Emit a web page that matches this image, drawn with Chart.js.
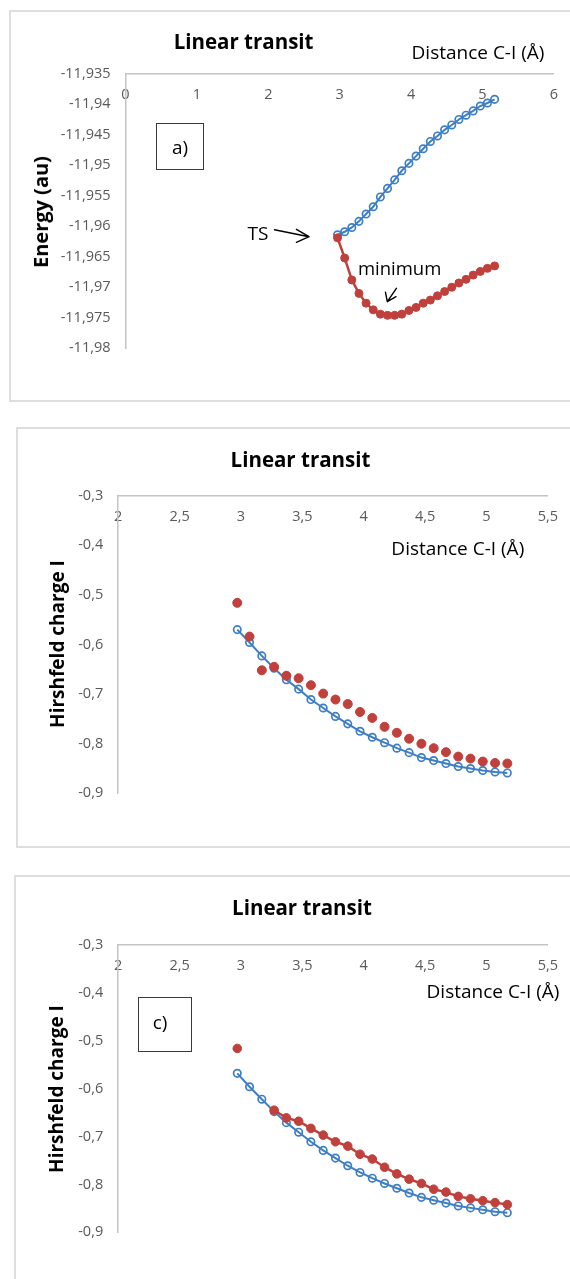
<!DOCTYPE html>
<html><head><meta charset="utf-8">
<script src="https://cdn.jsdelivr.net/npm/chart.js@4.4.1/dist/chart.umd.min.js"></script>
<style>
html,body{margin:0;padding:0;background:#fff;width:570px;height:1279px;overflow:hidden;position:relative;font-family:'Open Sans',sans-serif;}
.panel{position:absolute;border:2px solid #dedede;box-sizing:border-box;}
canvas{position:absolute;left:0;}
.t{position:absolute;white-space:nowrap;line-height:1;color:#000;font-family:'Open Sans',sans-serif;}
.ttl{font-weight:bold;font-size:20.5px;transform:translateX(-50%);}
.dist{font-size:19px;transform:translateX(-50%);}
.yt{font-weight:bold;transform:translate(-50%,-50%) rotate(-90deg);}
.box{position:absolute;border:1.3px solid #3a3a3a;box-sizing:border-box;}
</style></head>
<body>
<div class="panel" style="left:9px;top:10px;width:570px;height:392px;"></div>
<div class="panel" style="left:15.5px;top:426.5px;width:570px;height:421px;"></div>
<div class="panel" style="left:13.5px;top:875px;width:570px;height:420px;"></div>

<canvas id="c1" width="570" height="410" style="top:0"></canvas>
<canvas id="c2" width="570" height="430" style="top:420px"></canvas>
<canvas id="c3" width="570" height="419" style="top:860px"></canvas>

<!-- panel 1 texts -->
<div class="t ttl" style="left:243.6px;top:31px;">Linear transit</div>
<div class="t dist" style="left:478px;top:43px;">Distance C-I (Å)</div>
<div class="t yt" style="left:41px;top:212px;font-size:20px;">Energy (au)</div>
<div class="box" style="left:156px;top:123px;width:48px;height:47px;"></div>
<div class="t" style="left:180px;top:138px;font-size:19px;transform:translateX(-50%);">a)</div>
<div class="t" style="left:258px;top:224px;font-size:19px;transform:translateX(-50%);">TS</div>
<div class="t" style="left:399.6px;top:258.6px;font-size:18.5px;transform:translateX(-50%);">minimum</div>

<!-- panel 2 texts -->
<div class="t ttl" style="left:300.5px;top:448.5px;">Linear transit</div>
<div class="t dist" style="left:457.8px;top:539px;">Distance C-I (Å)</div>
<div class="t yt" style="left:57px;top:644px;font-size:19px;">Hirshfeld charge I</div>

<!-- panel 3 texts -->
<div class="t ttl" style="left:302px;top:896.8px;">Linear transit</div>
<div class="t dist" style="left:493px;top:982px;">Distance C-I (Å)</div>
<div class="t yt" style="left:56px;top:1089px;font-size:19px;">Hirshfeld charge I</div>
<div class="box" style="left:138px;top:997px;width:53.6px;height:55.3px;"></div>
<div class="t" style="left:160px;top:1013px;font-size:19px;transform:translateX(-50%);">c)</div>

<svg width="570" height="1279" style="position:absolute;left:0;top:0;pointer-events:none">
  <g stroke="#000" stroke-width="1.4" fill="none" stroke-linecap="round" stroke-linejoin="round">
    <path d="M274.5 229.7 L309 236.7 M296.4 229.3 L309 236.7 L296.4 242.3"/>
    <path d="M396.4 288.3 L387.3 301.7 M385.5 292.3 L387.3 301.7 L396 296.7"/>
  </g>
</svg>

<script>
// ---- data ----
const distances = [2.97, 3.07, 3.17, 3.27, 3.37, 3.47, 3.57, 3.67, 3.77, 3.87, 3.97, 4.07, 4.17, 4.27, 4.37, 4.47, 4.57, 4.67, 4.77, 4.87, 4.97, 5.07, 5.17];

const energyBlue = [-11.9614, -11.9609, -11.9602, -11.9592, -11.9580, -11.9568, -11.9552, -11.9538, -11.9524, -11.9509, -11.9497, -11.9485, -11.9473, -11.9461, -11.9452, -11.9442, -11.9434, -11.9425, -11.9418, -11.9411, -11.9403, -11.9398, -11.9392];
const energyRed = [-11.9619, -11.9652, -11.9688, -11.9710, -11.9726, -11.9737, -11.9744, -11.9746, -11.9746, -11.9744, -11.9738, -11.9733, -11.9726, -11.9721, -11.9714, -11.9707, -11.9700, -11.9693, -11.9687, -11.9680, -11.9674, -11.9669, -11.9665];

const chargeBRed = [-0.516, -0.584, -0.652, -0.645, -0.663, -0.668, -0.682, -0.699, -0.711, -0.720, -0.736, -0.748, -0.766, -0.778, -0.790, -0.800, -0.809, -0.817, -0.826, -0.830, -0.836, -0.839, -0.840];
const chargeBBlue = [-0.570, -0.596, -0.623, -0.648, -0.671, -0.690, -0.711, -0.728, -0.745, -0.760, -0.775, -0.787, -0.798, -0.809, -0.818, -0.828, -0.834, -0.840, -0.846, -0.850, -0.854, -0.857, -0.859];

const chargeCRed = [-0.516, null, null, -0.645, -0.661, -0.668, -0.683, -0.697, -0.711, -0.720, -0.737, -0.747, -0.764, -0.778, -0.789, -0.798, -0.810, -0.816, -0.825, -0.830, -0.834, -0.838, -0.842];
const chargeCBlue = [-0.568, -0.596, -0.622, -0.648, -0.671, -0.691, -0.711, -0.729, -0.745, -0.761, -0.775, -0.787, -0.798, -0.808, -0.818, -0.827, -0.833, -0.839, -0.845, -0.849, -0.853, -0.857, -0.859];

const xTicksA = [0, 1, 2, 3, 4, 5, 6];
const yTicksA = [-11.98, -11.975, -11.97, -11.965, -11.96, -11.955, -11.95, -11.945, -11.94, -11.935];
const xTicksBC = [2, 2.5, 3, 3.5, 4, 4.5, 5, 5.5];
const yTicksBC = [-0.9, -0.8, -0.7, -0.6, -0.5, -0.4, -0.3];

// ---- styling ----
const RED = '#c0403c';
const BLUE = '#3d7ec6';
const Y_AXIS_W = 95;
const fmt = v => String(v).replace('.', ',');
const pts = (xs, ys) => xs.map((x, i) => ({x: x, y: ys[i]}));

function redSet(ys, line, r) {
  return {data: pts(distances, ys), showLine: line, borderColor: RED, backgroundColor: RED,
    borderWidth: 2.5, pointRadius: r, pointBorderWidth: 1, pointBackgroundColor: RED,
    pointBorderColor: RED, tension: 0, spanGaps: false};
}
function blueSet(ys) {
  return {data: pts(distances, ys), showLine: true, borderColor: BLUE, backgroundColor: 'rgba(0,0,0,0)',
    borderWidth: 2, pointRadius: 3.7, pointBorderWidth: 1.7, pointBackgroundColor: 'rgba(0,0,0,0)',
    pointBorderColor: BLUE, tension: 0};
}

function make(id, datasets, xr, yr, xt, yt, plotLeft, pad) {
  const tickFont = {family: 'Open Sans', size: 14.5};
  pad.left = plotLeft - Y_AXIS_W;
  new Chart(document.getElementById(id), {
    type: 'scatter',
    data: {datasets: datasets},
    options: {
      responsive: false, animation: false, devicePixelRatio: 1,
      layout: {padding: pad},
      plugins: {legend: {display: false}, tooltip: {enabled: false}},
      scales: {
        x: {type: 'linear', min: xr[0], max: xr[1], position: {y: yr[1]},
          grid: {display: false, drawTicks: false},
          border: {display: true, color: '#c4c4c4', width: 1.5},
          ticks: {color: '#595959', font: tickFont, padding: 12, autoSkip: false, maxRotation: 0, callback: fmt},
          afterBuildTicks: s => { s.ticks = xt.map(v => ({value: v})); }},
        y: {type: 'linear', min: yr[0], max: yr[1], position: 'left',
          grid: {display: false, drawTicks: false},
          border: {display: true, color: '#c4c4c4', width: 1.5},
          ticks: {color: '#595959', font: tickFont, padding: 15, autoSkip: false, callback: fmt},
          afterBuildTicks: s => { s.ticks = yt.map(v => ({value: v})); },
          afterFit: s => { s.width = Y_AXIS_W; }}
      }
    }
  });
}

make('c1', [redSet(energyRed, true, 4), blueSet(energyBlue)], [0, 6], [-11.98, -11.935], xTicksA, yTicksA,
  125.5, {top: 73.7, right: 13.6, bottom: 61.7});
make('c2', [redSet(chargeBRed, false, 4.5), blueSet(chargeBBlue)], [2, 5.5], [-0.9, -0.3], xTicksBC, yTicksBC,
  118.2, {top: 75.7, right: 18, bottom: 56.7});
make('c3', [redSet(chargeCRed, true, 4.3), blueSet(chargeCBlue)], [2, 5.5], [-0.9, -0.3], xTicksBC, yTicksBC,
  118.2, {top: 85, right: 13.6, bottom: 46.7});
</script>
</body></html>
